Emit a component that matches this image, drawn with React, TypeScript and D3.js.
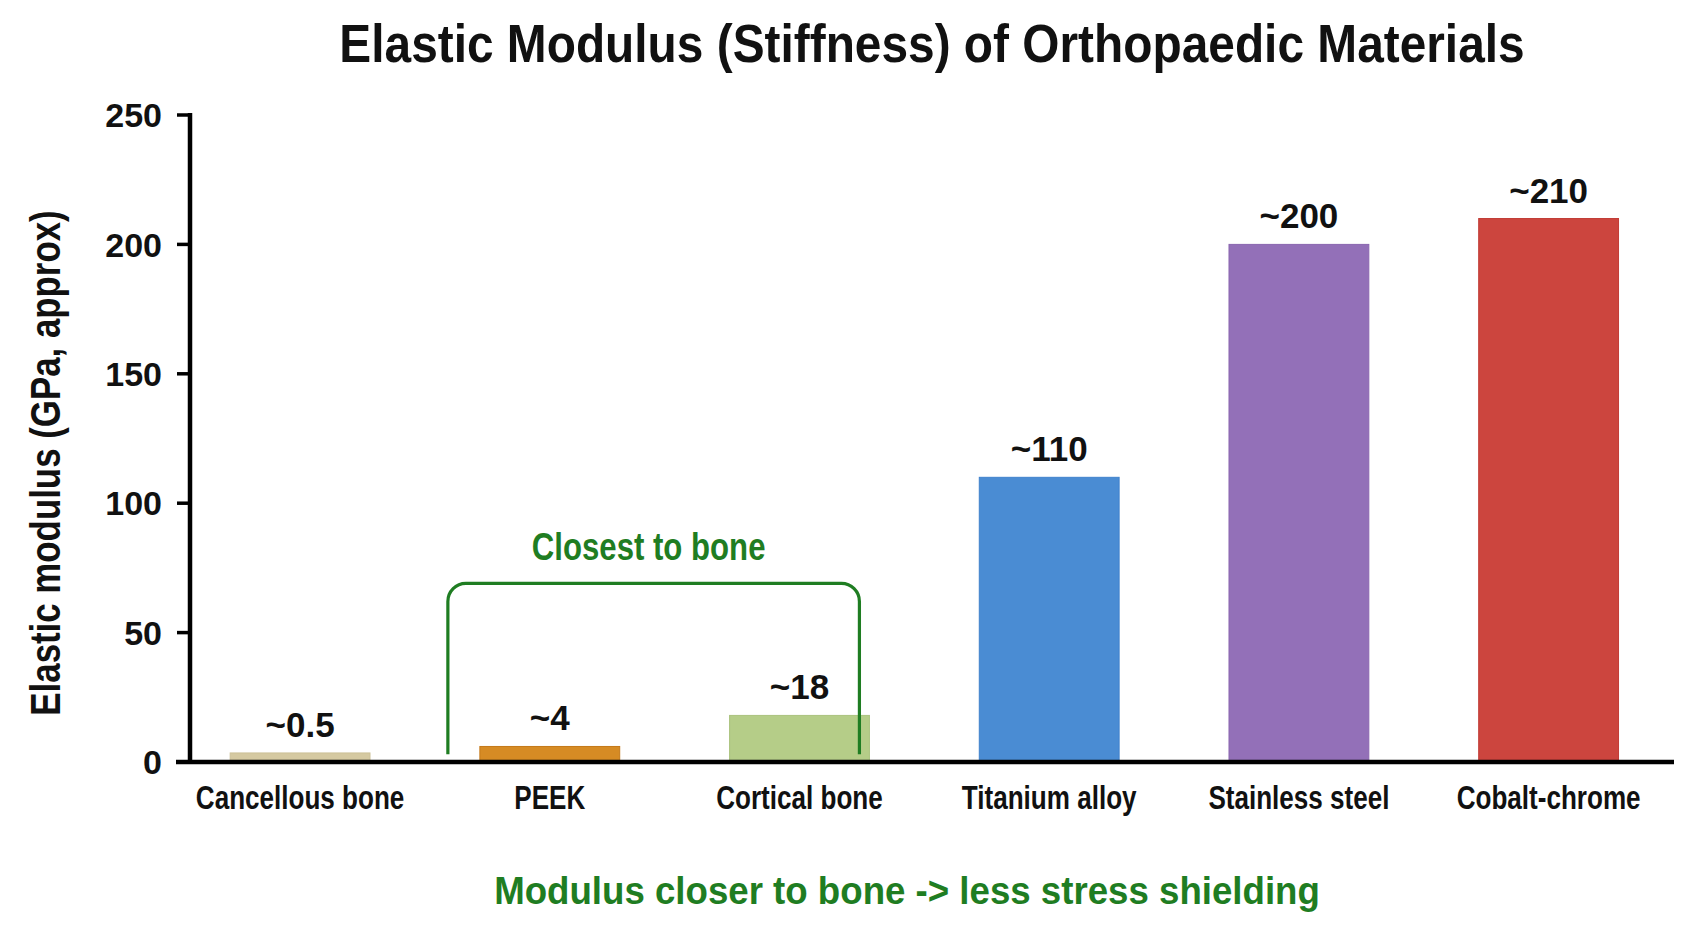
import React, { useEffect, useRef } from 'react';
import * as d3 from 'd3';

const materials = ['Cancellous bone', 'PEEK', 'Cortical bone', 'Titanium alloy', 'Stainless steel', 'Cobalt-chrome'];
// bar heights as drawn in the picture (GPa)
const modulus = [3.5, 6, 18, 110, 200, 210];
const valueLabels = ['~0.5', '~4', '~18', '~110', '~200', '~210'];
const barColors = ['#d5c9a1', '#d68b24', '#b5cd88', '#4a8cd3', '#9370b8', '#cc453e'];
const barStrokes = ['#cdc198', '#c47818', '#aac27e', '#3f82cc', '#8a66b0', '#c23c36'];
const yTicks = [0, 50, 100, 150, 200, 250];
const closestGroup = ['PEEK', 'Cortical bone'];

const W = 1693;
const H = 929;
const FONT = '"Liberation Sans", Arial, sans-serif';
const GREEN = '#1f7d22';

const App: React.FC = () => {
  const svgRef = useRef<SVGSVGElement>(null);

  useEffect(() => {
    if (!svgRef.current) return;
    const svg = d3.select(svgRef.current);
    svg.selectAll('*').remove();

    const x = d3.scaleBand<string>()
      .domain(materials)
      .range([190, 1674])
      .paddingInner(0.44)
      .paddingOuter(0.1915)
      .align(0.42);

    const y = d3.scaleLinear()
      .domain([0, 250])
      .range([762, 115]);

    const bw = x.bandwidth();
    const rows = materials.map((m, i) => ({ m, v: modulus[i], label: valueLabels[i], fill: barColors[i], stroke: barStrokes[i] }));

    // title
    svg.append('text')
      .attr('transform', `translate(932,62) scale(0.886,1)`)
      .attr('text-anchor', 'middle')
      .style('font-family', FONT)
      .style('font-weight', 'bold')
      .style('font-size', '54px')
      .attr('fill', '#111')
      .text('Elastic Modulus (Stiffness) of Orthopaedic Materials');

    // bars
    svg.append('g')
      .selectAll('rect')
      .data(rows)
      .enter()
      .append('rect')
      .attr('x', d => x(d.m)!)
      .attr('y', d => y(d.v))
      .attr('width', bw)
      .attr('height', d => y(0) - y(d.v))
      .attr('fill', d => d.fill)
      .attr('stroke', d => d.stroke)
      .attr('stroke-width', 1);

    // value labels
    svg.append('g')
      .selectAll('text')
      .data(rows)
      .enter()
      .append('text')
      .attr('x', d => x(d.m)! + bw / 2)
      .attr('y', d => y(d.v) - 16)
      .attr('text-anchor', 'middle')
      .style('font-family', FONT)
      .style('font-weight', 'bold')
      .style('font-size', '35px')
      .attr('fill', '#111')
      .text(d => d.label);

    // y axis
    const yAxis = svg.append('g');
    yAxis.append('line')
      .attr('x1', 190).attr('x2', 190)
      .attr('y1', y(250) - 2).attr('y2', y(0) + 2)
      .attr('stroke', '#000').attr('stroke-width', 4.5);
    yAxis.selectAll('line.tick')
      .data(yTicks)
      .enter()
      .append('line')
      .attr('class', 'tick')
      .attr('x1', 177).attr('x2', 190)
      .attr('y1', d => y(d)).attr('y2', d => y(d))
      .attr('stroke', '#000').attr('stroke-width', 3.5);
    yAxis.selectAll('text')
      .data(yTicks)
      .enter()
      .append('text')
      .attr('x', 162)
      .attr('y', d => y(d))
      .attr('dy', '0.36em')
      .attr('text-anchor', 'end')
      .style('font-family', FONT)
      .style('font-weight', 'bold')
      .style('font-size', '34px')
      .attr('fill', '#111')
      .text(d => d);

    // x axis baseline
    svg.append('line')
      .attr('x1', 176).attr('x2', 1674)
      .attr('y1', y(0)).attr('y2', y(0))
      .attr('stroke', '#000').attr('stroke-width', 4.5);

    // category labels
    svg.append('g')
      .selectAll('text')
      .data(materials)
      .enter()
      .append('text')
      .attr('transform', d => `translate(${x(d)! + bw / 2},809) scale(0.79,1)`)
      .attr('text-anchor', 'middle')
      .style('font-family', FONT)
      .style('font-weight', 'bold')
      .style('font-size', '33px')
      .attr('fill', '#111')
      .text(d => d);

    // y axis title
    svg.append('text')
      .attr('transform', `translate(60,463) rotate(-90) scale(0.83,1)`)
      .attr('text-anchor', 'middle')
      .style('font-family', FONT)
      .style('font-weight', 'bold')
      .style('font-size', '42px')
      .attr('fill', '#111')
      .text('Elastic modulus (GPa, approx)');

    // "closest to bone" bracket
    const left = x(closestGroup[0])! - 32;
    const right = x(closestGroup[1])! + bw - 10;
    const top = y(69);
    const bottom = y(3);
    const r = 18;
    const bracket = d3.path();
    bracket.moveTo(left, bottom);
    bracket.lineTo(left, top + r);
    bracket.arcTo(left, top, left + r, top, r);
    bracket.lineTo(right - r, top);
    bracket.arcTo(right, top, right, top + r, r);
    bracket.lineTo(right, bottom);
    svg.append('path')
      .attr('d', bracket.toString())
      .attr('fill', 'none')
      .attr('stroke', GREEN)
      .attr('stroke-width', 3.2);

    svg.append('text')
      .attr('transform', `translate(${(left + right) / 2 - 5},${y(78)}) scale(0.82,1)`)
      .attr('text-anchor', 'middle')
      .style('font-family', FONT)
      .style('font-weight', 'bold')
      .style('font-size', '38px')
      .attr('fill', GREEN)
      .text('Closest to bone');

    // bottom note
    svg.append('text')
      .attr('transform', `translate(907,904) scale(0.94,1)`)
      .attr('text-anchor', 'middle')
      .style('font-family', FONT)
      .style('font-weight', 'bold')
      .style('font-size', '39px')
      .attr('fill', GREEN)
      .text('Modulus closer to bone -> less stress shielding');
  }, []);

  return (
    <svg
      ref={svgRef}
      width={W}
      height={H}
      style={{ position: 'absolute', left: 0, top: 0, background: '#fff' }}
    ></svg>
  );
};

export default App;
